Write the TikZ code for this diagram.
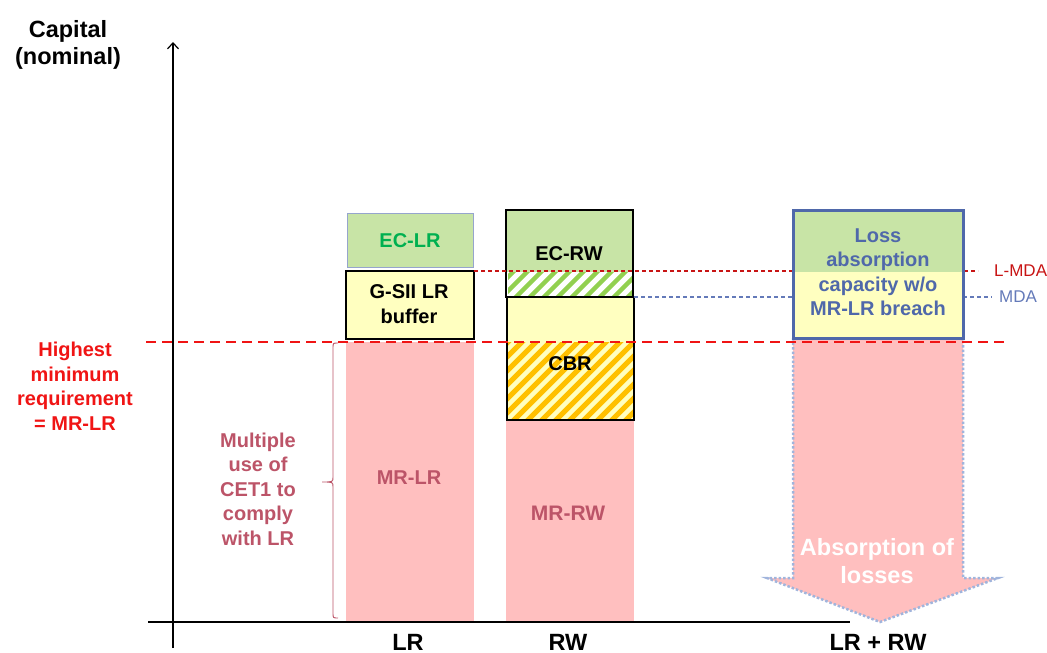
\documentclass[tikz,border=0pt]{standalone}
\usepackage{fontspec}
\setmainfont{Liberation Sans}
\usetikzlibrary{arrows.meta}
\definecolor{mrpink}{RGB}{255,191,191}
\definecolor{byellow}{RGB}{255,255,192}
\definecolor{bgreen}{RGB}{200,228,166}
\definecolor{ecgreen}{RGB}{0,176,80}
\definecolor{hgreen}{RGB}{146,208,80}
\definecolor{horange}{RGB}{255,192,0}
\definecolor{lblue}{RGB}{79,104,170}
\definecolor{mdablue}{RGB}{100,122,185}
\definecolor{dotblue}{RGB}{160,180,220}
\definecolor{rose}{RGB}{188,84,104}
\definecolor{lmdared}{RGB}{200,20,20}
\definecolor{hired}{RGB}{240,20,20}
\definecolor{ecframe}{RGB}{150,165,205}
\begin{document}
\begin{tikzpicture}[x=1pt,y=-1pt,
  font=\bfseries\fontsize{20}{24.5}\selectfont,
  lbl/.style={align=center, inner sep=0pt},
  big/.style={font=\bfseries\fontsize{23.5}{27.5}\selectfont},
  area/.style={inner sep=0pt, anchor=north west, draw=none},
  boxed/.style={draw=black, line width=1.5pt},
  small/.style={font=\fontsize{17}{20}\selectfont, inner sep=0pt, anchor=west}]
\useasboundingbox (0,0) rectangle (1047,653);

% pink minimum requirement columns
\node[area, fill=mrpink, minimum width=128, minimum height=280] (mrlr) at (346,342) {};
\node[area, fill=mrpink, minimum width=128, minimum height=202] (mrrw) at (506,420) {};

% pink arrow
\path[fill=mrpink] (793,338) -- (793,578) -- (767,578) -- (880,622) -- (998,578) -- (963,578) -- (963,338) -- cycle;
\draw[dotblue, line width=2.5pt, dash pattern=on 2.5pt off 2pt]
  (793,338) -- (793,578) -- (767,578) -- (880,622) -- (998,578) -- (963,578) -- (963,338);
\node[lbl, big, text=white] (abs) at (877,561) {Absorption of\\losses};

% LR column boxes
\node[area, fill=bgreen, draw=ecframe, line width=1pt, minimum width=126, minimum height=54] (eclr) at (347,213) {};
\node[lbl, text=ecgreen] (eclrt) at (410,241) {EC-LR};
\node[area, fill=byellow, boxed, minimum width=128, minimum height=68] (gsii) at (345,270) {};
\node[lbl] (gsiit) at (409,304) {G-SII LR\\buffer};

% RW column boxes
\node[area, fill=bgreen, minimum width=127, minimum height=62] (ecrw) at (506,210) {};
\begin{scope}
  \clip (508,272) rectangle (633,297);
  \foreach \i in {0,...,12} \draw[hgreen, line width=4.5pt] (480+\i*14,305) -- ++(40,-40);
\end{scope}
\draw[boxed] (506,210) rectangle (633,297);
\node[lbl] (ecrwt) at (569,254) {EC-RW};
\node[area, fill=byellow, minimum width=127, minimum height=123] (cbr) at (507,297) {};
\begin{scope}
  \clip (507,342) rectangle (634,420);
  \foreach \i in {0,...,16} \draw[horange, line width=5pt] (420+\i*14,430) -- ++(100,-100);
\end{scope}
\draw[boxed] (507,297) rectangle (634,420);
\node[lbl] (cbrt) at (570,364) {CBR};

% column labels
\node[lbl, text=rose] (mrlrt) at (409,478) {MR-LR};
\node[lbl, text=rose, font=\bfseries\fontsize{21}{25}\selectfont] (mrrwt) at (568,513) {MR-RW};

% MDA lines (behind loss box)
\coordinate (lmdaS) at (474,271);
\coordinate (lmdaE) at (978,271);
\coordinate (mdaS) at (634,297);
\coordinate (mdaE) at (992,297);
\draw[lmdared, line width=1.1pt, dash pattern=on 4pt off 3pt] (lmdaS) -- (lmdaE);
\draw[mdablue, line width=1.1pt, dash pattern=on 4pt off 3pt] (mdaS) -- (mdaE);
\node[small, text=lmdared] (lmda) at (994,271) {L-MDA};
\node[small, text=mdablue] (mda) at (999,297) {MDA};

% loss absorption box
\fill[bgreen] (793,210) rectangle (963,272);
\fill[byellow] (793,272) rectangle (963,338);
\draw[lblue, line width=3pt] (793,210) rectangle (963,338);
\node[lbl, text=lblue] (loss) at (878,272) {Loss\\absorption\\capacity w/o\\MR-LR breach};

% highest minimum requirement line
\coordinate (hlS) at (146,342);
\coordinate (hlE) at (1005,342);
\draw[hired, line width=2.5pt, dash pattern=on 10pt off 6pt] (hlS) -- (hlE);

% axes
\coordinate (yb) at (173,648);
\coordinate (yt) at (173,42);
\coordinate (xl) at (148,622);
\coordinate (xr) at (850,622);
\draw[line width=1.5pt] (xl) -- (xr);
\draw[line width=1.2pt, -{Straight Barb[length=6pt,width=11pt]}] (yb) -- (yt);

% brace
\draw[rose, line width=0.9pt] (338,343) .. controls (333,343) .. (333,348) -- (333,477)
  .. controls (333,482) .. (322,482) .. controls (333,482) .. (333,487) -- (333,613)
  .. controls (333,618) .. (338,618);

% texts
\node[lbl, big] (cap) at (68,45) {Capital\\(nominal)};
\node[lbl, text=hired] (hmr) at (75,386) {Highest\\minimum\\requirement\\= MR-LR};
\node[lbl, text=rose] (mult) at (258,489) {Multiple\\use of\\CET1 to\\comply\\with LR};
\node[lbl, big] (lr) at (408,642) {LR};
\node[lbl, big] (rw) at (568,642) {RW};
\node[lbl, big] (lrrw) at (878,642) {LR + RW};
\end{tikzpicture}
\end{document}
